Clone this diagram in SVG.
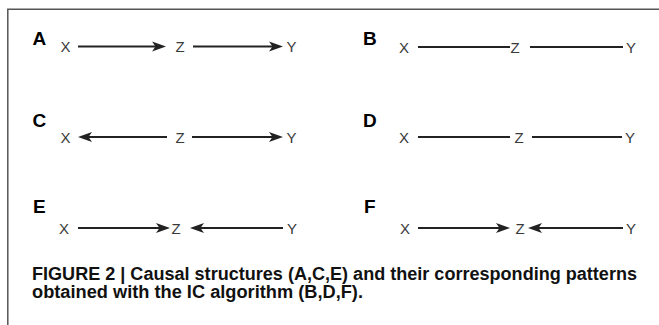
<svg xmlns="http://www.w3.org/2000/svg" width="659" height="325" viewBox="0 0 659 325">
<style>
.frame{fill:none;stroke:#555;stroke-width:1.5}
.lbl{font-family:"Liberation Sans",Arial,sans-serif;font-weight:bold;font-size:19px;fill:#000}
.nd{font-family:"Liberation Sans",Arial,sans-serif;font-size:15px;fill:#3a3a3a;text-anchor:middle}
.ln{stroke:#222;stroke-width:1.8;fill:none}
.arr{marker-end:url(#ah)}
.cap{font-family:"Liberation Sans",Arial,sans-serif;font-weight:bold;font-size:17.5px;fill:#111}
</style>
<defs>
<marker id="ah" markerUnits="userSpaceOnUse" markerWidth="16" markerHeight="12" viewBox="0 0 16 12" refX="10" refY="6" orient="auto">
<path d="M0,1 L14,6 L0,11 L3.5,6 Z" fill="#222"/>
</marker>
</defs>
<path class="frame" d="M7.8,325 V9.3 H659"/>
<g id="labels">
<text class="lbl" x="32.5" y="45">A</text>
<text class="lbl" x="363" y="45">B</text>
<text class="lbl" x="32.5" y="127">C</text>
<text class="lbl" x="363" y="127">D</text>
<text class="lbl" x="33" y="213">E</text>
<text class="lbl" x="364" y="213">F</text>
</g>
<g id="connectors">
<line class="ln arr" x1="78" y1="46.5" x2="162" y2="46.5"/>
<line class="ln arr" x1="193" y1="46.5" x2="279" y2="46.5"/>
<line class="ln" x1="418" y1="47" x2="510" y2="47"/>
<line class="ln" x1="530" y1="47" x2="623" y2="47"/>
<line class="ln arr" x1="167" y1="137" x2="82" y2="137"/>
<line class="ln arr" x1="192" y1="137" x2="279" y2="137"/>
<line class="ln" x1="418" y1="137" x2="510" y2="137"/>
<line class="ln" x1="532" y1="137" x2="622" y2="137"/>
<line class="ln arr" x1="78" y1="228" x2="166" y2="228"/>
<line class="ln arr" x1="283" y1="228" x2="194" y2="228"/>
<line class="ln arr" x1="418" y1="228" x2="506" y2="228"/>
<line class="ln arr" x1="623" y1="228" x2="532" y2="228"/>
</g>
<g id="A-X"><text class="nd" x="65.5" y="52">X</text></g>
<g id="A-Z"><text class="nd" x="180" y="52">Z</text></g>
<g id="A-Y"><text class="nd" x="291.5" y="52">Y</text></g>
<g id="B-X"><text class="nd" x="404" y="52.5">X</text></g>
<g id="B-Z"><text class="nd" x="515" y="52.5">Z</text></g>
<g id="B-Y"><text class="nd" x="631" y="52.5">Y</text></g>
<g id="C-X"><text class="nd" x="65.5" y="142.5">X</text></g>
<g id="C-Z"><text class="nd" x="180" y="142.5">Z</text></g>
<g id="C-Y"><text class="nd" x="291.5" y="142.5">Y</text></g>
<g id="D-X"><text class="nd" x="404" y="142.5">X</text></g>
<g id="D-Z"><text class="nd" x="519" y="142.5">Z</text></g>
<g id="D-Y"><text class="nd" x="630" y="142.5">Y</text></g>
<g id="E-X"><text class="nd" x="64" y="233.5">X</text></g>
<g id="E-Z"><text class="nd" x="176" y="233.5">Z</text></g>
<g id="E-Y"><text class="nd" x="292" y="233.5">Y</text></g>
<g id="F-X"><text class="nd" x="405" y="233.5">X</text></g>
<g id="F-Z"><text class="nd" x="520" y="233.5">Z</text></g>
<g id="F-Y"><text class="nd" x="631" y="233.5">Y</text></g>
<g id="caption">
<text class="cap" x="32" y="280" textLength="605" lengthAdjust="spacingAndGlyphs">FIGURE 2 | Causal structures (A,C,E) and their corresponding patterns</text>
<text class="cap" x="32" y="298" textLength="331" lengthAdjust="spacingAndGlyphs">obtained with the IC algorithm (B,D,F).</text>
</g>
</svg>
